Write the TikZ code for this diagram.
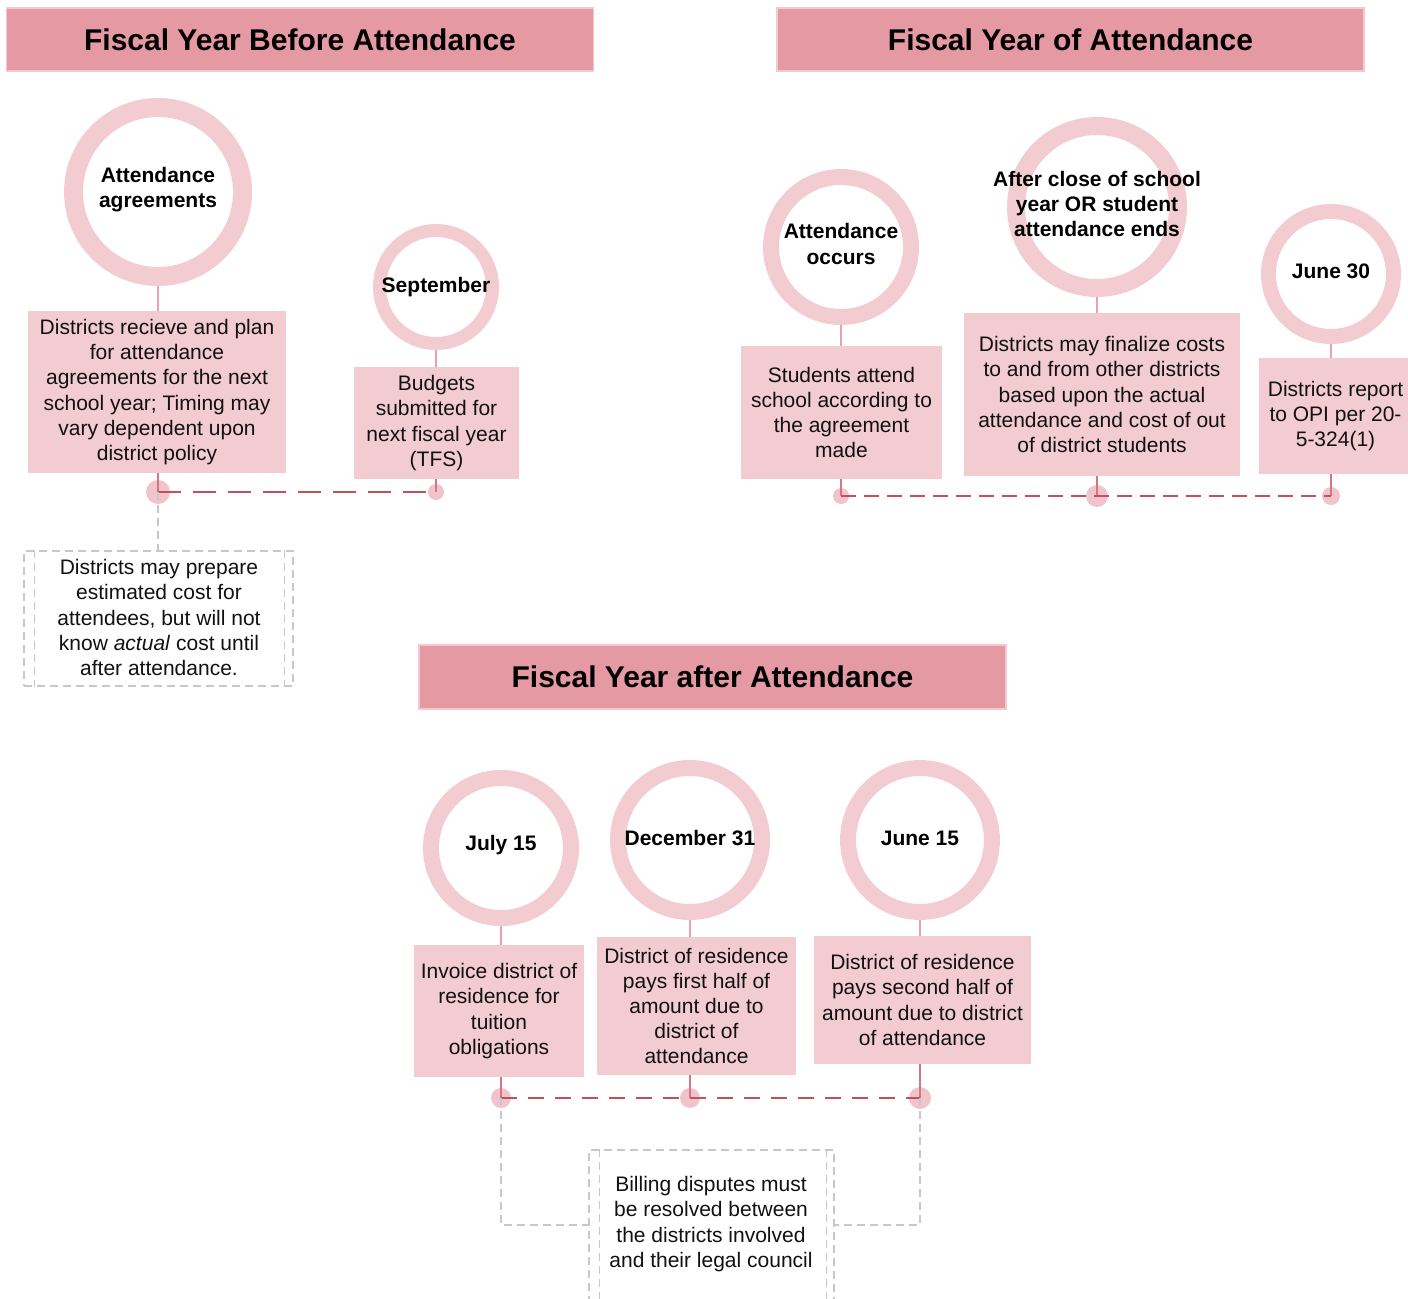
\documentclass[tikz,border=0pt]{standalone}
\usepackage{fontspec}
\setmainfont{Liberation Sans}
\definecolor{hdr}{HTML}{E59AA3}
\definecolor{hdredge}{HTML}{F3C9CE}
\definecolor{ring}{HTML}{F2CCD1}
\definecolor{stemc}{HTML}{E6A2AC}
\definecolor{dkline}{HTML}{C4505E}
\definecolor{dkstemc}{HTML}{D47785}
\definecolor{dotc}{HTML}{F0C4CA}
\definecolor{gry}{HTML}{C8C8C8}
\definecolor{txt}{HTML}{111111}
\tikzset{
  hdrbox/.style={fill=hdr, draw=hdredge, line width=0.6pt, inner sep=0pt, minimum height=31.5pt, minimum width=293.5pt, font=\fontsize{15}{18}\selectfont\bfseries, text=black},
  ringc/.style={circle, draw=ring, inner sep=0pt},
  lbl/.style={align=center, inner sep=0pt, font=\fontsize{10.5}{12.6}\selectfont\bfseries, text=black},
  pbox/.style={fill=ring, inner sep=0pt, align=center, font=\fontsize{10.5}{12.6}\selectfont, text=txt},
  dotn/.style={circle, fill=dotc, inner sep=0pt},
  stemline/.style={draw=stemc, line width=1.2pt},
  dkstem/.style={draw=dkstemc, line width=1pt},
  tline/.style={draw=dkline, line width=1pt},
  gdash/.style={draw=gry, line width=0.6pt, dash pattern=on 4pt off 2.5pt},
  gtext/.style={align=center, inner sep=0pt, font=\fontsize{10.5}{12.6}\selectfont, text=txt}
}
\begin{document}
\begin{tikzpicture}[x=0.5pt, y=-0.5pt]
\useasboundingbox (0,0) rectangle (1408,1299);

% headers
\node[hdrbox] (h1) at (300,39.5) {Fiscal Year Before Attendance};
\node[hdrbox] (h2) at (1070.5,39.5) {Fiscal Year of Attendance};
\node[hdrbox, minimum height=32pt] (h3) at (712.5,677) {Fiscal Year after Attendance};

% circles
\node[ringc, minimum size=84.5pt, line width=9.5pt] (c1) at (158,192) {};
\node[ringc, minimum size=56.5pt, line width=6.5pt] (c2) at (436,287) {};
\node[ringc, minimum size=70pt, line width=8pt] (c3) at (841,247) {};
\node[ringc, minimum size=81pt, line width=9pt] (c4) at (1097,207) {};
\node[ringc, minimum size=62.5pt, line width=7.5pt] (c5) at (1331,274) {};
\node[ringc, minimum size=70pt, line width=8pt] (c6) at (501,848) {};
\node[ringc, minimum size=72pt, line width=8pt] (c7) at (690,840) {};
\node[ringc, minimum size=72pt, line width=8pt] (c8) at (920,840) {};

% circle labels
\node[lbl] (l1) at (158,190) {Attendance\\agreements};
\node[lbl] (l2) at (436,287) {September};
\node[lbl] (l3) at (841,244) {Attendance\\occurs};
\node[lbl] (l4) at (1097,204) {After close of school\\year OR student\\attendance ends};
\node[lbl] (l5) at (1331,271) {June 30};
\node[lbl] (l6) at (501,845) {July 15};
\node[lbl] (l7) at (690,838) {December 31};
\node[lbl] (l8) at (920,838) {June 15};

% boxes
\node[pbox, minimum width=129pt, minimum height=81pt] (b1) at (157,392) {Districts recieve and plan\\for attendance\\agreements for the next\\school year; Timing may\\vary dependent upon\\district policy};
\node[pbox, minimum width=82.5pt, minimum height=56pt] (b2) at (436.5,423) {Budgets\\submitted for\\next fiscal year\\(TFS)};
\node[pbox, minimum width=100.5pt, minimum height=66.5pt] (b3) at (841.5,412.5) {Students attend\\school according to\\the agreement\\made};
\node[pbox, minimum width=138pt, minimum height=81.5pt] (b4) at (1102,394.5) {Districts may finalize costs\\to and from other districts\\based upon the actual\\attendance and cost of out\\of district students};
\node[pbox, minimum width=76.5pt, minimum height=58pt] (b5) at (1335.5,416) {Districts report\\to OPI per 20-\\5-324(1)};
\node[pbox, minimum width=85pt, minimum height=66pt] (b6) at (499,1011) {Invoice district of\\residence for\\tuition\\obligations};
\node[pbox, minimum width=99.5pt, minimum height=69pt] (b7) at (696.5,1006) {District of residence\\pays first half of\\amount due to\\district of\\attendance};
\node[pbox, minimum width=108.5pt, minimum height=64pt] (b8) at (922.5,1000) {District of residence\\pays second half of\\amount due to district\\of attendance};

% stems circle -> box
\foreach \i in {1,...,8}{
  \draw[stemline] (c\i.south) -- (c\i.south |- b\i.north);
}

% dots
\node[dotn, minimum size=12pt] (d1) at (158,492) {};
\node[dotn, minimum size=8pt] (d2) at (436,492) {};
\node[dotn, minimum size=8pt] (d3) at (841,496) {};
\node[dotn, minimum size=11pt] (d4) at (1097,496) {};
\node[dotn, minimum size=9pt] (d5) at (1331,496) {};
\node[dotn, minimum size=10pt] (d6) at (501,1098) {};
\node[dotn, minimum size=10pt] (d7) at (690,1098) {};
\node[dotn, minimum size=11pt] (d8) at (920,1098) {};

% stems box -> dot
\foreach \i in {1,...,8}{
  \draw[dkstem] (d\i |- b\i.south) -- (d\i.center);
}

% timelines
\draw[tline, dash pattern=on 11.5pt off 6pt] (d1.center) -- (d2.center);
\draw[tline, dash pattern=on 7.5pt off 4pt] (d3.center) -- (d5.center);
\draw[tline, dash pattern=on 8pt off 5.5pt] (d6.center) -- (d8.center);

% dashed note 1
\node[draw=gry, line width=0.6pt, dash pattern=on 4pt off 2.5pt, inner sep=0pt, minimum width=134.5pt, minimum height=67.5pt] (n1) at (158.5,618.5) {};
\draw[gdash] ([xshift=5.5pt]n1.north west) -- ([xshift=5.5pt]n1.south west);
\draw[gdash] ([xshift=-4.5pt]n1.north east) -- ([xshift=-4.5pt]n1.south east);
\node[gtext] (t1) at (159,617.5) {Districts may prepare\\estimated cost for\\attendees, but will not\\know \textit{actual} cost until\\after attendance.};
\draw[gdash] (d1.center) -- (d1 |- n1.north);

% dashed note 2
\node[draw=gry, line width=0.6pt, dash pattern=on 4pt off 2.5pt, inner sep=0pt, minimum width=122.5pt, minimum height=85pt] (n2) at (711.5,1235) {};
\draw[gdash] ([xshift=5.5pt]n2.north west) -- ([xshift=5.5pt]n2.south west);
\draw[gdash] ([xshift=-4pt]n2.north east) -- ([xshift=-4pt]n2.south east);
\node[gtext] (t2) at (711,1224) {Billing disputes must\\be resolved between\\the districts involved\\and their legal council};
\draw[gdash] (d6.center) |- ([yshift=5pt]n2.west);
\draw[gdash] (d8.center) |- ([yshift=5pt]n2.east);
\end{tikzpicture}
\end{document}
